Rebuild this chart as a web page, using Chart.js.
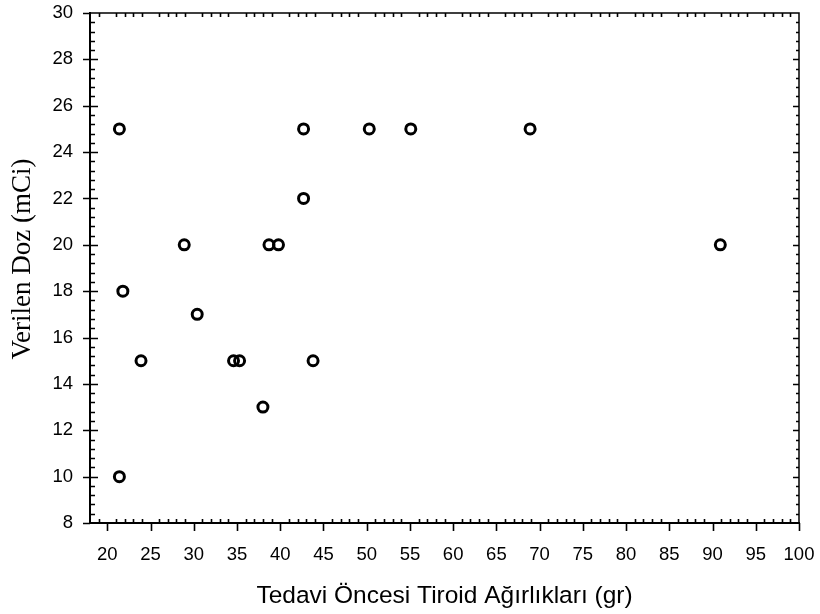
<!DOCTYPE html>
<html>
<head>
<meta charset="utf-8">
<script src="https://cdn.jsdelivr.net/npm/chart.js@4"></script>
<style>
  html, body { margin: 0; padding: 0; background: #fff; }
  #wrap { width: 820px; height: 614px; }
</style>
</head>
<body>
<div id="wrap"><canvas id="myChart" width="820" height="614"></canvas></div>
<script>
// Tiroid ağırlığı (gr) ve verilen doz (mCi)
let weights = [21.4, 21.8, 21.4, 23.9, 28.9, 30.4, 34.6, 35.3, 38.0, 38.7, 39.8, 42.7, 42.7, 43.8, 50.3, 55.1, 68.9, 90.9];
let doses   = [25,   18,   10,   15,   20,   17,   15,   15,   13,   20,   20,   25,   22,   15,   25,   25,   25,   20];

// Eksen sınırları ve etiketler
let xMin = 18, xMax = 100;
let yMin = 8, yMax = 30;
let xTicks = [20, 25, 30, 35, 40, 45, 50, 55, 60, 65, 70, 75, 80, 85, 90, 95, 100];
let yTicks = [8, 10, 12, 14, 16, 18, 20, 22, 24, 26, 28, 30];

let xTitle = 'Tedavi Öncesi Tiroid Ağırlıkları (gr)';
let yTitle = 'Verilen Doz (mCi)';

// Çerçeve, tik çizgileri ve dikey eksen başlığı
const framePlugin = {
    id: 'frame',
    afterDraw(chart) {
        const ctx = chart.ctx;
        const a = chart.chartArea;
        const xs = chart.scales.x;
        const ys = chart.scales.y;
        ctx.save();
        ctx.strokeStyle = '#000';
        ctx.lineCap = 'butt';

        // çerçeve
        ctx.lineWidth = 1.5;
        ctx.beginPath();
        ctx.moveTo(a.left, a.top); ctx.lineTo(a.right, a.top); ctx.lineTo(a.right, a.bottom);
        ctx.stroke();
        ctx.lineWidth = 2;
        ctx.beginPath();
        ctx.moveTo(a.left, a.top - 1); ctx.lineTo(a.left, a.bottom); ctx.lineTo(a.right + 1, a.bottom);
        ctx.stroke();

        ctx.lineWidth = 1.6;
        ctx.beginPath();
        // x ekseni: ana tikler dışa, ara tikler içe (alt ve üst)
        for (let v = xMin + 1; v <= xMax; v++) {
            const px = Math.round(xs.getPixelForValue(v)) + 0.5;
            if (v % 5 === 0) {
                ctx.moveTo(px, a.bottom); ctx.lineTo(px, a.bottom + 8);
            } else {
                ctx.moveTo(px, a.bottom); ctx.lineTo(px, a.bottom - 4);
                ctx.moveTo(px, a.top); ctx.lineTo(px, a.top + 4);
            }
        }
        // y ekseni: ana tikler her iki yana, ara tikler 0.4 aralıkla
        for (let i = 1; i < (yMax - yMin) / 0.4; i++) {
            const v = yMin + i * 0.4;
            const py = Math.round(ys.getPixelForValue(v)) + 0.5;
            if (i % 5 === 0) {
                ctx.moveTo(a.left - 7, py); ctx.lineTo(a.left + 8, py);
                ctx.moveTo(a.right, py); ctx.lineTo(a.right - 6, py);
            } else {
                ctx.moveTo(a.left, py); ctx.lineTo(a.left + 5, py);
                ctx.moveTo(a.right, py); ctx.lineTo(a.right - 3, py);
            }
        }
        // uçlardaki ana tikler
        const p8 = Math.round(ys.getPixelForValue(yMin)) + 0.5;
        ctx.moveTo(a.left - 7, p8); ctx.lineTo(a.left, p8);
        const p30 = Math.round(ys.getPixelForValue(yMax)) + 0.5;
        ctx.moveTo(a.left - 7, p30); ctx.lineTo(a.left, p30);
        ctx.stroke();

        // dikey başlık
        ctx.fillStyle = '#000';
        ctx.font = '27px "Liberation Serif", "Times New Roman", serif';
        ctx.textAlign = 'center';
        ctx.textBaseline = 'middle';
        ctx.translate(23, 259);
        ctx.rotate(-Math.PI / 2);
        ctx.fillText(yTitle, 0, 0);
        ctx.restore();
    }
};

function updateChart() {
    let ctx = document.getElementById('myChart').getContext('2d');
    new Chart(ctx, {
        type: 'scatter',
        data: {
            datasets: [{
                data: weights.map((w, i) => ({ x: w, y: doses[i] })),
                pointRadius: 5,
                pointHoverRadius: 5,
                borderWidth: 3,
                borderColor: '#000',
                backgroundColor: 'rgba(0,0,0,0)'
            }]
        },
        options: {
            responsive: false,
            animation: false,
            events: [],
            layout: { padding: { top: 13, right: 21, left: 0, bottom: 0 } },
            plugins: {
                legend: { display: false },
                tooltip: { enabled: false }
            },
            scales: {
                x: {
                    type: 'linear',
                    min: xMin,
                    max: xMax,
                    afterBuildTicks: s => { s.ticks = xTicks.map(v => ({ value: v })); },
                    afterFit: s => { s.height = 91; s.paddingLeft = 0; s.paddingRight = 0; },
                    grid: { display: false, drawTicks: false },
                    border: { display: false },
                    ticks: {
                        padding: 21,
                        color: '#000',
                        maxRotation: 0,
                        autoSkip: false,
                        font: { family: '"Liberation Sans", Arial, sans-serif', size: 18.5 }
                    },
                    title: {
                        display: true,
                        text: xTitle,
                        color: '#000',
                        padding: { top: 0, bottom: 3 },
                        font: { family: '"Liberation Sans", Arial, sans-serif', size: 24.5 }
                    }
                },
                y: {
                    type: 'linear',
                    min: yMin,
                    max: yMax,
                    afterBuildTicks: s => { s.ticks = yTicks.map(v => ({ value: v })); },
                    afterFit: s => { s.width = 90; s.paddingTop = 0; s.paddingBottom = 0; },
                    grid: { display: false, drawTicks: false },
                    border: { display: false },
                    ticks: {
                        padding: 17,
                        color: '#000',
                        autoSkip: false,
                        font: { family: '"Liberation Sans", Arial, sans-serif', size: 18.5 }
                    }
                }
            }
        },
        plugins: [framePlugin]
    });
}

updateChart();
</script>
</body>
</html>
